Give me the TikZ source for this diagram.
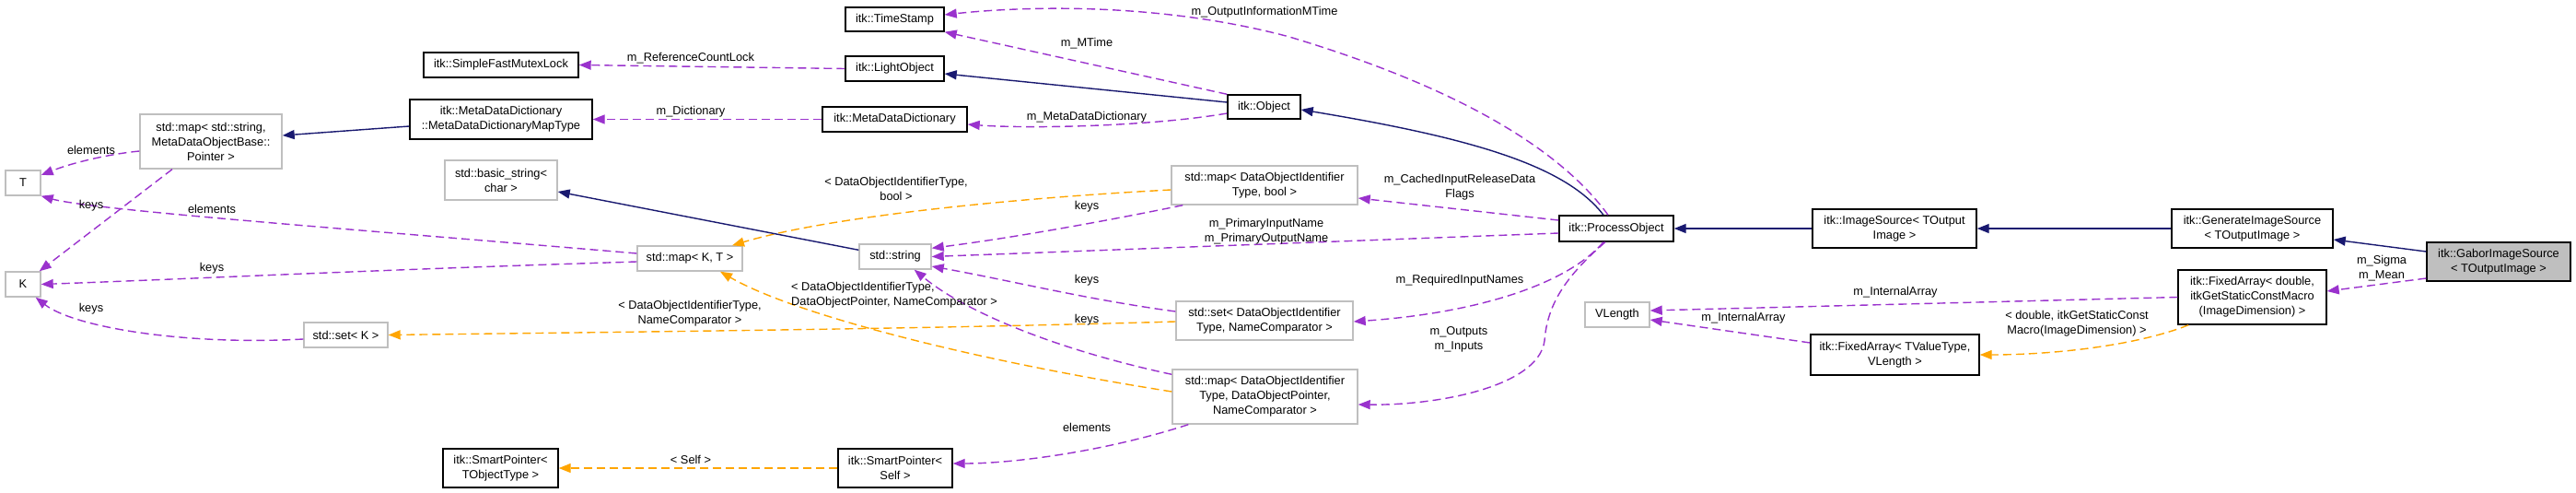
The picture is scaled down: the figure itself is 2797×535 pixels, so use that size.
\documentclass[tikz,border=0pt]{standalone}
\usepackage{fontspec}
\setmainfont{Liberation Sans}
\usetikzlibrary{arrows.meta,calc}
\definecolor{edgeblue}{HTML}{191970}
\definecolor{edgepurple}{HTML}{9A32CD}
\definecolor{edgeorange}{HTML}{FFA500}
\definecolor{nodegray}{HTML}{BFBFBF}
\newcommand\dfont{\fontsize{12.8}{16}\selectfont}
\tikzset{
  cls/.style={draw=black, line width=1.4pt, fill=white, align=center, inner sep=0pt, font=\dfont},
  ucls/.style={cls, draw=nodegray},
  gcls/.style={cls, fill=nodegray},
  inh/.style={draw=edgeblue, line width=1.4pt, -{Triangle[length=13pt,width=10pt]}},
  use/.style={draw=edgepurple, line width=1.4pt, dash pattern=on 9pt off 5pt, -{Triangle[length=13pt,width=10pt]}},
  tpl/.style={use, draw=edgeorange},
  lbl/.style={font=\dfont, align=center, inner sep=0pt}
}
\begin{document}
\begin{tikzpicture}[x=1pt,y=-1pt]
\useasboundingbox (0,0) rectangle (2797,535);
% nodes
\node[ucls, minimum width=38, minimum height=27] (T) at (25,198.5) {T};
\node[ucls, minimum width=38, minimum height=27] (K) at (25,308.5) {K};
\node[ucls, minimum width=154, minimum height=59] (mapSS) at (229,153.5) {std::map< std::string,\\ MetaDataObjectBase::\\Pointer >};
\node[cls, minimum width=168, minimum height=27] (SFML) at (544,70.5) {itk::SimpleFastMutexLock};
\node[cls, minimum width=198, minimum height=43] (MapType) at (544,129.5) {itk::MetaDataDictionary\\::MetaDataDictionaryMapType};
\node[ucls, minimum width=122, minimum height=43] (bstr) at (544,195.5) {std::basic\_string<\\ char >};
\node[ucls, minimum width=91, minimum height=27] (setK) at (375.5,363.5) {std::set< K >};
\node[cls, minimum width=125, minimum height=42] (SPT) at (543.5,508) {itk::SmartPointer<\\ TObjectType >};
\node[cls, minimum width=107, minimum height=26] (TS) at (971.5,21) {itk::TimeStamp};
\node[cls, minimum width=107, minimum height=27] (LO) at (971.5,74.5) {itk::LightObject};
\node[cls, minimum width=157, minimum height=27] (MDD) at (971.5,129.5) {itk::MetaDataDictionary};
\node[cls, minimum width=79, minimum height=26] (Obj) at (1372.5,116) {itk::Object};
\node[ucls, minimum width=202, minimum height=42] (mapB) at (1373,201) {std::map< DataObjectIdentifier\\Type, bool >};
\node[ucls, minimum width=114, minimum height=27] (mapKT) at (749,280.5) {std::map< K, T >};
\node[ucls, minimum width=78, minimum height=27] (str) at (972,278.5) {std::string};
\node[ucls, minimum width=192, minimum height=42] (setD) at (1373,348) {std::set< DataObjectIdentifier\\Type, NameComparator >};
\node[ucls, minimum width=201, minimum height=59] (mapP) at (1373.5,430.5) {std::map< DataObjectIdentifier\\Type, DataObjectPointer,\\ NameComparator >};
\node[cls, minimum width=124, minimum height=42] (SPS) at (972,508) {itk::SmartPointer<\\ Self >};
\node[cls, minimum width=124, minimum height=28] (PO) at (1755,248) {itk::ProcessObject};
\node[cls, minimum width=178, minimum height=42] (IS) at (2057,248) {itk::ImageSource< TOutput\\ Image >};
\node[cls, minimum width=175, minimum height=42] (GIS) at (2445.5,248) {itk::GenerateImageSource\\ < TOutputImage >};
\node[gcls, minimum width=156, minimum height=42] (Gab) at (2713,284) {itk::GaborImageSource\\ < TOutputImage >};
\node[cls, minimum width=161, minimum height=59] (FAd) at (2445.5,322.5) {itk::FixedArray< double,\\ itkGetStaticConstMacro\\(ImageDimension) >};
\node[ucls, minimum width=70, minimum height=27] (VL) at (1756,341.5) {VLength};
\node[cls, minimum width=183, minimum height=44] (FAT) at (2057.5,385) {itk::FixedArray< TValueType,\\ VLength >};

% edges
\draw[use] ($(mapSS.west)+(0,10.5)$) .. controls (120,167) and (80,176) .. ($(T.east)+(0,-8.5)$);
\draw[use] ($(mapSS.south)+(-42,0)$) -- ($(K.north east)+(-2,0)$);
\draw[use] ($(mapKT.west)+(0,-5.5)$) .. controls (400,250) and (100,228) .. (T.south east);
\draw[use] ($(mapKT.west)+(0,3.5)$) .. controls (400,293) and (200,303) .. (K.east);
\draw[use] ($(setK.west)+(0,4.5)$) .. controls (200,375) and (80,355) .. ($(K.south east)+(-6,0)$);
\draw[tpl] ($(setD.west)+(0,1)$) .. controls (1000,357) and (700,360) .. (setK.east);
\draw[use] ($(setD.west)+(0,-10)$) .. controls (1180,325) and (1100,305) .. ($(str.east)+(0,10.5)$);
\draw[use] ($(mapP.north west)+(0,6)$) .. controls (1150,380) and (1050,340) .. ($(str.south east)+(-19,0)$);
\draw[tpl] ($(mapP.west)+(0,-5.5)$) .. controls (1050,390) and (860,340) .. ($(mapKT.south)+(33,0)$);
\draw[tpl] ($(mapB.west)+(0,5)$) .. controls (1100,215) and (900,235) .. ($(mapKT.north)+(46,0)$);
\draw[use] ($(mapB.south west)+(13,0)$) .. controls (1200,240) and (1100,258) .. ($(str.north east)+(0,5)$);
\draw[inh] ($(str.north west)+(0,7)$) -- ($(bstr.east)+(0,12.5)$);
\draw[inh] ($(MapType.west)+(0,7.5)$) -- ($(mapSS.east)+(0,-6.5)$);
\draw[use] (MDD.west) -- (MapType.east);
\draw[use] (LO.west) -- (SFML.east);
\draw[inh] ($(Obj.west)+(0,-5)$) -- ($(LO.east)+(0,5.5)$);
\draw[use] (Obj.north west) -- (TS.south east);
\draw[use] ($(Obj.west)+(0,7)$) .. controls (1250,137) and (1120,140) .. ($(MDD.east)+(0,5.5)$);
\draw[use] ($(PO.north)+(-9,0)$) .. controls (1700,170) and (1600,100) .. (1400,40) .. controls (1250,0) and (1100,8) .. ($(TS.east)+(0,-5)$);
\draw[inh] ($(PO.north)+(-14,0)$) .. controls (1700,180) and (1600,150) .. ($(Obj.east)+(0,3)$);
\draw[use] ($(PO.west)+(0,-9)$) -- ($(mapB.east)+(0,14)$);
\draw[use] ($(PO.west)+(0,5)$) -- (str.east);
\draw[use] ($(PO.south)+(-14,0)$) .. controls (1700,310) and (1600,340) .. ($(setD.east)+(0,1)$);
\draw[use] ($(PO.south)+(-12,0)$) .. controls (1700,300) and (1680,330) .. (1677,370) .. controls (1670,420) and (1560,440) .. ($(mapP.east)+(0,8.5)$);
\draw[use] ($(mapP.south west)+(18,0)$) .. controls (1200,490) and (1100,503) .. ($(SPS.east)+(0,-5)$);
\draw[tpl] (SPS.west) -- (SPT.east);
\draw[inh] (IS.west) -- (PO.east);
\draw[inh] (GIS.west) -- (IS.east);
\draw[inh] ($(Gab.west)+(0,-11)$) -- ($(GIS.east)+(0,12)$);
\draw[use] ($(Gab.west)+(0,18)$) -- ($(FAd.east)+(0,-6.5)$);
\draw[use] (FAd.west) -- ($(VL.east)+(0,-4.5)$);
\draw[use] ($(FAT.west)+(0,-13)$) -- ($(VL.east)+(0,5.5)$);
\draw[tpl] ($(FAd.south west)+(12,0)$) .. controls (2320,375) and (2230,385) .. (FAT.east);

% labels
\node[lbl] (l1) at (99,163) {elements};
\node[lbl] (l2) at (99,223) {keys};
\node[lbl] (l3) at (230,227) {elements};
\node[lbl] (l4) at (230,291) {keys};
\node[lbl] (l5) at (99,335) {keys};
\node[lbl] (l6) at (749,340) {< DataObjectIdentifierType,\\NameComparator >};
\node[lbl] (l7) at (1180,304) {keys};
\node[lbl] (l8) at (1180,347) {keys};
\node[lbl, align=left, anchor=west] (l9) at (859,320) {< DataObjectIdentifierType,\\DataObjectPointer, NameComparator >};
\node[lbl] (l10) at (973,205) {< DataObjectIdentifierType,\\bool >};
\node[lbl] (l11) at (1180,224) {keys};
\node[lbl] (l12) at (750,121) {m\_Dictionary};
\node[lbl] (l13) at (750,63) {m\_ReferenceCountLock};
\node[lbl] (l14) at (1180,47) {m\_MTime};
\node[lbl] (l15) at (1180,127) {m\_MetaDataDictionary};
\node[lbl] (l16) at (1373,13) {m\_OutputInformationMTime};
\node[lbl] (l17) at (1585,203) {m\_CachedInputReleaseData\\Flags};
\node[lbl] (l18) at (1375,251) {m\_PrimaryInputName\\m\_PrimaryOutputName};
\node[lbl] (l19) at (1585,304) {m\_RequiredInputNames};
\node[lbl] (l20) at (1584,368) {m\_Outputs\\m\_Inputs};
\node[lbl] (l21) at (1180,464) {elements};
\node[lbl] (l22) at (750,499) {< Self >};
\node[lbl] (l23) at (2586,291) {m\_Sigma\\m\_Mean};
\node[lbl] (l24) at (2058,317) {m\_InternalArray};
\node[lbl] (l25) at (1893,345) {m\_InternalArray};
\node[lbl] (l26) at (2255,351) {< double, itkGetStaticConst\\Macro(ImageDimension) >};
\end{tikzpicture}
\end{document}
